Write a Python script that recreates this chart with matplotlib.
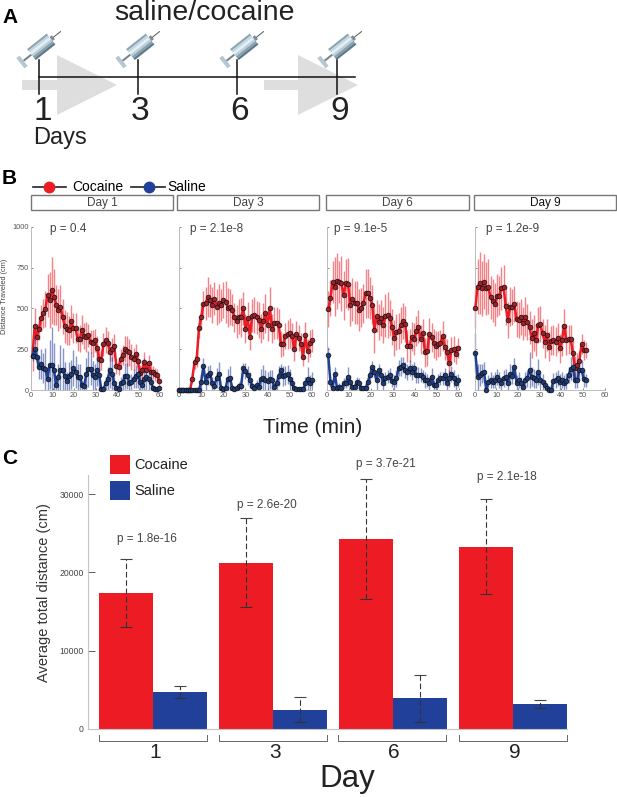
import numpy as np
import matplotlib
matplotlib.use("Agg")
import matplotlib.pyplot as plt
from matplotlib.patches import Polygon, Rectangle

plt.rcParams['font.family'] = ['Liberation Sans', 'DejaVu Sans']

W, H = 617, 797
RED = '#ed1c24'
BLUE = '#21409a'

# panel A
timeline_days = ['1', '3', '6', '9']

# panel B, distance per minute
day1_coc = [210, 390, 325, 375, 440, 470, 495, 580, 550, 610,
            570, 520, 490, 510, 450, 390, 375, 365, 420, 380,
            380, 310, 315, 370, 330, 325, 335, 295, 285, 305,
            260, 190, 185, 280, 305, 290, 235, 250, 270, 145,
            140, 190, 215, 250, 240, 230, 200, 190, 220, 175,
            105, 120, 170, 120, 165, 110, 110, 95, 90, 55]
day1_coc_err = [95, 110, 70, 70, 80, 90, 110, 130, 170, 205,
                170, 120, 130, 130, 110, 100, 100, 90, 100, 90,
                90, 70, 80, 90, 80, 90, 70, 70, 80, 70,
                70, 60, 60, 70, 80, 70, 60, 70, 70, 50,
                50, 60, 60, 80, 90, 80, 80, 70, 60, 50,
                50, 50, 60, 50, 50, 50, 40, 40, 40, 30]
day1_sal = [210, 250, 200, 140, 160, 135, 130, 70, 155, 155,
            120, 30, 80, 125, 120, 85, 55, 85, 95, 135,
            110, 80, 80, 30, 25, 95, 130, 130, 90, 80,
            125, 90, 5, 5, 40, 70, 120, 95, 45, 15,
            5, 40, 50, 85, 85, 45, 50, 70, 85, 100,
            50, 30, 65, 80, 70, 50, 15, 5, 5, 10]
day1_sal_err = [30, 60, 60, 70, 90, 90, 130, 70, 150, 230,
                170, 30, 80, 150, 140, 85, 55, 85, 90, 110,
                100, 80, 80, 30, 25, 100, 110, 100, 90, 80,
                100, 90, 5, 5, 40, 70, 110, 110, 45, 15,
                5, 40, 50, 80, 80, 45, 50, 60, 70, 90,
                50, 30, 130, 80, 70, 50, 15, 5, 5, 10]

day3_coc = [0, 0, 0, 0, 0, 0, 70, 170, 190, 380,
            445, 525, 530, 570, 550, 520, 560, 510, 530, 520,
            550, 540, 505, 510, 490, 445, 420, 450, 445, 500,
            375, 440, 325, 455, 460, 445, 430, 375, 420, 470,
            400, 500, 375, 410, 410, 395, 280, 280, 330, 340,
            350, 330, 250, 345, 320, 280, 205, 335, 240, 285,
            305]
day3_coc_err = [0, 0, 0, 0, 0, 0, 30, 40, 50, 60,
                70, 80, 100, 120, 100, 110, 100, 110, 120, 100,
                110, 130, 120, 110, 100, 90, 100, 110, 120, 100,
                90, 100, 80, 100, 110, 100, 110, 90, 110, 120,
                100, 130, 90, 100, 100, 100, 80, 70, 80, 90,
                90, 80, 70, 80, 80, 70, 60, 80, 70, 80,
                70]
day3_sal = [0, 0, 0, 0, 0, 0, 0, 0, 0, 0,
            50, 145, 50, 90, 105, 40, 25, 75, 100, 10,
            5, 10, 70, 75, 15, 5, 10, 25, 25, 135,
            115, 90, 60, 25, 10, 30, 20, 70, 75, 60,
            55, 65, 60, 20, 40, 85, 120, 85, 90, 95,
            70, 40, 10, 5, 5, 5, 5, 40, 70, 45,
            60]
day3_sal_err = [0, 0, 0, 0, 0, 0, 0, 0, 0, 0,
                50, 50, 50, 60, 50, 40, 25, 60, 70, 10,
                5, 10, 60, 70, 15, 5, 10, 25, 25, 30,
                50, 60, 50, 25, 10, 30, 20, 60, 80, 60,
                55, 60, 60, 20, 40, 60, 40, 60, 60, 60,
                60, 40, 10, 5, 5, 5, 5, 40, 70, 45,
                50]

day6_coc = [494, 563, 661, 633, 667, 661, 653, 580, 653, 649,
            520, 555, 535, 535, 490, 505, 531, 592, 592, 565,
            522, 367, 453, 418, 443, 398, 455, 459, 443, 388,
            316, 357, 361, 398, 424, 404, 269, 271, 327, 312,
            361, 388, 310, 347, 231, 239, 343, 322, 286, 271,
            280, 286, 331, 265, 231, 167, 245, 251, 218, 259]
day6_coc_err = [110, 110, 130, 180, 170, 130, 170, 150, 150, 160,
                130, 130, 130, 130, 130, 120, 120, 150, 150, 130,
                120, 140, 100, 110, 110, 110, 130, 140, 110, 110,
                110, 110, 110, 110, 110, 110, 100, 100, 90, 100,
                90, 100, 90, 90, 90, 90, 100, 90, 90, 90,
                80, 80, 90, 80, 80, 70, 80, 80, 60, 60]
day6_sal = [214, 47, 14, 98, 10, 20, 10, 41, 41, 82,
            51, 16, 20, 47, 41, 10, 10, 10, 51, 92,
            139, 112, 61, 122, 92, 41, 71, 82, 92, 57,
            47, 71, 133, 143, 153, 122, 112, 133, 112, 133,
            92, 92, 92, 82, 61, 61, 41, 82, 31, 31,
            61, 71, 71, 92, 41, 71, 98, 71, 45, 60]
day6_sal_err = [50, 30, 14, 40, 10, 20, 10, 30, 30, 60,
                40, 16, 20, 30, 30, 10, 10, 10, 40, 40,
                40, 40, 60, 40, 40, 40, 40, 40, 40, 40,
                45, 50, 50, 60, 50, 50, 50, 50, 50, 40,
                50, 50, 40, 40, 50, 40, 40, 50, 31, 31,
                40, 40, 40, 40, 41, 50, 50, 50, 45, 40]

day9_coc = [500, 633, 653, 622, 663, 622, 633, 567, 547, 524,
            578, 578, 622, 633, 516, 429, 510, 506, 527, 435,
            429, 449, 408, 449, 418, 384, 316, 347, 306, 398,
            402, 347, 296, 337, 265, 302, 306, 296, 320, 255,
            306, 394, 306, 310, 310, 229, 137, 155, 180, 280,
            245, 245]
day9_coc_err = [120, 170, 190, 170, 170, 160, 170, 130, 130, 130,
                130, 120, 130, 130, 120, 110, 120, 110, 110, 110,
                110, 110, 100, 120, 110, 100, 120, 110, 100, 110,
                110, 90, 100, 100, 90, 90, 90, 90, 90, 90,
                100, 100, 90, 90, 90, 80, 70, 70, 60, 60,
                60, 50]
day9_sal = [228, 82, 92, 102, 112, 2, 51, 61, 51, 61,
            78, 61, 41, 71, 78, 41, 98, 86, 143, 45,
            61, 41, 20, 61, 71, 122, 82, 71, 61, 112,
            60, 50, 30, 10, 2, 2, 55, 60, 75, 50,
            60, 45, 55, 90, 130, 140, 60, 60, 120, 125,
            70, 60]
day9_sal_err = [120, 80, 70, 60, 60, 2, 40, 50, 40, 50,
                50, 50, 41, 50, 50, 41, 60, 50, 50, 45,
                50, 41, 20, 50, 50, 110, 60, 60, 50, 80,
                50, 50, 30, 10, 2, 2, 50, 50, 50, 50,
                50, 45, 50, 50, 70, 70, 50, 50, 60, 60,
                50, 40]

# panel C
bar_days = ['1', '3', '6', '9']
bar_coc = [17300, 21200, 24300, 23300]
bar_coc_hi = [21700, 26900, 31900, 29400]
bar_coc_lo = [13000, 15600, 16600, 17200]
bar_sal = [4700, 2400, 3900, 3100]
bar_sal_hi = [5500, 4000, 6900, 3700]
bar_sal_lo = [3900, 800, 900, 2600]
bar_p = ['p = 1.8e-16', 'p = 2.6e-20', 'p = 3.7e-21', 'p = 2.1e-18']

fig = plt.figure(figsize=(W / 100, H / 100), dpi=100)


def axes_px(x0, x1, ytop, ybot):
    return fig.add_axes([x0 / W, 1 - ybot / H, (x1 - x0) / W, (ybot - ytop) / H], facecolor='none')


# overlay in pixel coordinates for the diagram and the loose labels
bg = fig.add_axes([0, 0, 1, 1])
bg.set_xlim(0, W)
bg.set_ylim(H, 0)
bg.axis('off')


def syringe(x, y):
    d = np.array([38, -30]) / 48.4
    n = np.array([30, 38]) / 48.4
    o = np.array([x, y])

    def quad(s0, s1, w0, w1, c, z=3):
        pts = [o + d * s0 + n * w0, o + d * s1 + n * w0, o + d * s1 + n * w1, o + d * s0 + n * w1]
        bg.add_patch(Polygon(pts, closed=True, fc=c, ec='none', zorder=z))

    quad(-2, 2, -6.5, 6.5, '#b4c6cf')
    quad(2, 12, -1, 1, '#77838a')
    band_cols = ['#8ba6b5', '#c4d8e2', '#e4eff4', '#b9ced9', '#86a0af', '#5f7887']
    edges = np.linspace(-7, 7, len(band_cols) + 1)
    for c, a, b in zip(band_cols, edges[:-1], edges[1:]):
        quad(12, 37, a, b, c)
    quad(37, 40, -2.5, 2.5, '#7d8f99')
    bg.plot([o[0] + d[0] * 40, o[0] + d[0] * 49], [o[1] + d[1] * 40, o[1] + d[1] * 49],
            color='#555555', lw=0.7, zorder=3)


# panel A
for x_tail, x_head in [(22, 57), (264, 298)]:
    tip = x_head + 60
    bg.add_patch(Polygon([(x_tail, 80), (x_head, 80), (x_head, 55), (tip, 85), (x_head, 115),
                          (x_head, 90), (x_tail, 90)], closed=True, fc='#dedede', ec='none', zorder=1))
bg.plot([39, 355], [77, 77], color='#111111', lw=1.1, zorder=2)
for i, (x, lab) in enumerate(zip([39, 138, 237, 337], timeline_days)):
    bg.plot([x, x], [60, 94], color='#111111', lw=1.1, zorder=2)
    bg.text(x + [4, 2, 3, 3][i], 111, lab, fontsize=24, ha='center', va='center', color='#222222')
for x in [22, 121, 225, 323]:
    syringe(x, 62)
bg.text(60, 138, 'Days', fontsize=17, ha='center', va='center', color='#222222')
bg.text(204, 13, 'saline/cocaine', fontsize=20.5, ha='center', va='center', color='#222222')
bg.text(2, 17, 'A', fontsize=15, fontweight='bold', va='center')
bg.text(2, 178, 'B', fontsize=15, fontweight='bold', va='center')
bg.text(2, 458, 'C', fontsize=15, fontweight='bold', va='center')

# panel B legend
bg.plot([33, 66], [187, 187], color='#222222', lw=1.2, zorder=2)
bg.plot([49], [187], 'o', ms=7.5, mfc=RED, mec=RED, zorder=3)
bg.text(72, 187, 'Cocaine', fontsize=10, va='center')
bg.plot([131, 165], [187, 187], color='#222222', lw=1.2, zorder=2)
bg.plot([149], [187], 'o', ms=7.5, mfc=BLUE, mec=BLUE, zorder=3)
bg.text(167, 187, 'Saline', fontsize=10, va='center')

panels = [
    ('Day 1', 'p = 0.4', 31, 160, 31, 173, 50, day1_coc, day1_coc_err, day1_sal, day1_sal_err, 0.7, '#444444'),
    ('Day 3', 'p = 2.1e-8', 179, 312, 177, 319, 190, day3_coc, day3_coc_err, day3_sal, day3_sal_err, 0.0, '#444444'),
    ('Day 6', 'p = 9.1e-5', 326.7, 458.7, 326, 469, 334, day6_coc, day6_coc_err, day6_sal, day6_sal_err, 0.7, '#444444'),
    ('Day 9', 'p = 1.2e-9', 474.7, 604.7, 474, 616, 486, day9_coc, day9_coc_err, day9_sal, day9_sal_err, 0.3, '#111111'),
]

for i, (title, p, x0, x1, bx0, bx1, px, coc, coc_err, sal, sal_err, start, tcol) in enumerate(panels):
    bg.add_patch(Rectangle((bx0, 195), bx1 - bx0, 15, fc='white', ec='#777777', lw=1))
    bg.text((bx0 + bx1) / 2, 202.5, title, fontsize=8.5, ha='center', va='center', color=tcol)
    bg.text(px, 229, p, fontsize=8.5, va='center', color='#444444')

    ax = axes_px(x0, x1, 226.7, 390)
    for vals, errs, col, face in [(coc, coc_err, RED, '#a3202a'), (sal, sal_err, BLUE, '#1e3a78')]:
        t = np.arange(len(vals)) + start
        v = np.array(vals, dtype=float)
        e = np.array(errs, dtype=float)
        ax.vlines(t, np.clip(v - e, 0, None), v + e, color=col, lw=1.0, alpha=0.55, zorder=2, clip_on=False)
        ax.plot(t, v, color=col, lw=1.8, zorder=3, clip_on=False)
        ax.plot(t, v, 'o', ms=3.4, mfc=face, mec='#111111', mew=0.5, zorder=4, clip_on=False)
    ax.set_xlim(0, 60)
    ax.set_ylim(0, 1000)
    ax.set_xticks(range(0, 61, 10))
    ax.set_yticks([0, 250, 500, 750, 1000])
    if i > 0:
        ax.set_yticklabels([])
    ax.tick_params(labelsize=5.3, length=1.5, width=0.5, pad=1.5, colors='#555555', direction='in')
    ax.spines[['top', 'right']].set_visible(False)
    ax.spines[['left', 'bottom']].set_color('#bbbbbb')
    ax.spines[['left', 'bottom']].set_linewidth(0.7)

bg.text(5, 296, 'Distance Traveled (cm)', fontsize=5.3, rotation=90, ha='center', va='center', color='#444444')
bg.text(313, 427, 'Time (min)', fontsize=15, ha='center', va='center', color='#222222')

# panel C
ax = axes_px(88, 567, 475, 728.7)
pos = np.arange(len(bar_days))
width = 0.45
ax.bar(pos - width / 2, bar_coc, width, color=RED, zorder=2)
ax.bar(pos + width / 2, bar_sal, width, color=BLUE, zorder=2)
for xs, hi, lo in [(pos - width / 2, bar_coc_hi, bar_coc_lo), (pos + width / 2, bar_sal_hi, bar_sal_lo)]:
    ax.vlines(xs, lo, hi, color='#333333', lw=0.8, linestyles=(0, (5, 2.5)), zorder=3, clip_on=False)
    ax.hlines(hi, xs - 0.05, xs + 0.05, color='#444444', lw=0.8, zorder=3, clip_on=False)
    ax.hlines(lo, xs - 0.05, xs + 0.05, color='#333333', lw=0.8, zorder=3, clip_on=False)
ax.set_xlim(-0.5417, 3.45)
ax.set_ylim(0, 32450)
ax.set_xticks([])
ax.set_yticks([0, 10000, 20000, 30000])
ax.tick_params(axis='y', labelsize=6.2, length=5, width=0.6, direction='in', pad=3, colors='#444444')
ax.spines[['top', 'right']].set_visible(False)
ax.spines[['left', 'bottom']].set_color('#c4c4c4')
ax.spines[['left', 'bottom']].set_linewidth(0.8)

bg.text(44, 593, 'Average total distance (cm)', fontsize=10.5, rotation=90, ha='center', va='center', color='#333333')
bg.add_patch(Rectangle((110, 455), 20, 19, fc=RED, ec='none'))
bg.add_patch(Rectangle((110, 481), 20, 19, fc=BLUE, ec='none'))
bg.text(134, 465, 'Cocaine', fontsize=10.5, va='center', color='#222222')
bg.text(134, 491, 'Saline', fontsize=10.5, va='center', color='#222222')

for xc, yp, lab, p in zip([153, 273, 392, 513], [539, 505, 464, 477], bar_days, bar_p):
    bg.plot([xc - 54, xc - 54, xc + 54, xc + 54], [735, 741, 741, 735], color='#666666', lw=0.7)
    bg.text(xc + 2, 753, lab, fontsize=15, ha='center', va='center', color='#222222')
    bg.text(xc - 6, yp, p, fontsize=8.5, ha='center', va='center', color='#444444')
bg.text(347, 779, 'Day', fontsize=22.5, ha='center', va='center', color='#222222')

fig.savefig('out.png', dpi=100)
